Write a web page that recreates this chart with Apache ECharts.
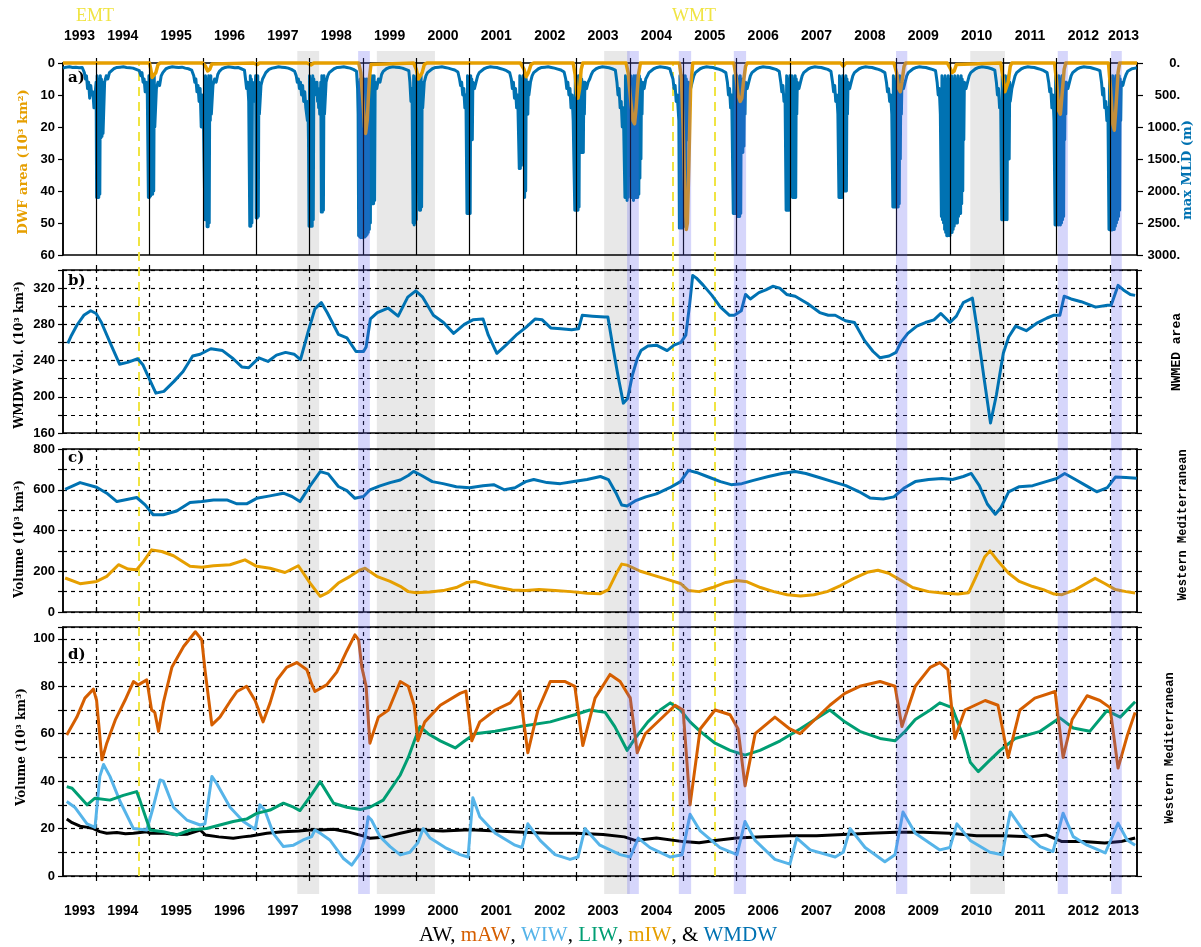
<!DOCTYPE html>
<html>
<head>
<meta charset="utf-8">
<script src="https://cdn.jsdelivr.net/npm/echarts@6/dist/echarts.min.js"></script>
<style>
  html, body { margin: 0; padding: 0; background: #ffffff; }
  #chart { width: 1201px; height: 947px; }
</style>
</head>
<body>
<div id="chart"></div>
<script>
// ---- time axis (decimal years) ----
const X_MIN = 1993.38;
const X_MAX = 2013.505;
const yearBoundaries = [1994, 1995, 1996, 1997, 1998, 1999, 2000, 2001, 2002, 2003,
                        2004, 2005, 2006, 2007, 2008, 2009, 2010, 2011, 2012, 2013];
const yearLabels = [1993, 1994, 1995, 1996, 1997, 1998, 1999, 2000, 2001, 2002, 2003,
                    2004, 2005, 2006, 2007, 2008, 2009, 2010, 2011, 2012, 2013];

// transition events (dashed yellow lines)
const transitionDates = [1994.8, 2004.8, 2005.6];

// shaded periods [start, end]
const greyPeriods = [[1997.77, 1998.18], [1999.26, 2000.35], [2003.52, 2004.0], [2010.38, 2011.03]];
const bluePeriods = [[1998.91, 1999.13], [2003.95, 2004.17], [2004.92, 2005.15], [2005.95, 2006.18],
                     [2008.99, 2009.2], [2012.02, 2012.21], [2013.02, 2013.22]];

// ---- a) deep water formation area (10^3 km^2) ----
const dwfArea = [
  [1993.38,0],[1995.0,0],[1995.02,1.5],[1995.05,4.5],[1995.08,5],[1995.12,3],[1995.16,0.5],[1995.2,0],
  [1996.0,0],[1996.05,1],[1996.09,2.5],[1996.13,2],[1996.17,0.3],[1996.2,0],
  [1996.95,0],[1997.02,0.5],[1997.06,0],
  [1997.95,0],[1998.03,0.6],[1998.08,0],
  [1998.92,0],[1998.96,3],[1999.0,12],[1999.03,20],[1999.05,22],[1999.08,18],[1999.12,5],[1999.15,0.5],[1999.18,0],
  [1999.95,0],[2000.0,2],[2000.04,5],[2000.07,5.3],[2000.11,3],[2000.15,0.5],[2000.2,0],
  [2001.95,0],[2002.02,2],[2002.06,4.3],[2002.1,3],[2002.15,0.5],[2002.2,0],
  [2002.94,0],[2002.98,4],[2003.01,10],[2003.03,11],[2003.06,8],[2003.09,2],[2003.12,0],
  [2003.93,0],[2003.97,3],[2004.02,12],[2004.06,18],[2004.09,19],[2004.12,14],[2004.16,4],[2004.2,0],
  [2004.93,0],[2004.97,5],[2005.0,20],[2005.03,40],[2005.06,52],[2005.08,50],[2005.11,30],[2005.14,8],[2005.18,0],
  [2005.95,0],[2005.99,4],[2006.03,10],[2006.07,12],[2006.1,11],[2006.13,6],[2006.17,1],[2006.2,0],
  [2007.95,0],[2008.0,1],[2008.05,0],
  [2008.95,0],[2009.0,3],[2009.04,8],[2009.07,9],[2009.1,6],[2009.14,1],[2009.17,0],
  [2009.95,0],[2010.0,1.5],[2010.04,3],[2010.08,2.5],[2010.12,0.5],[2010.15,0],
  [2010.95,0],[2010.99,4],[2011.03,9],[2011.06,9.5],[2011.09,6],[2011.13,1],[2011.16,0],
  [2011.96,0],[2012.0,6],[2012.04,15],[2012.07,16],[2012.1,10],[2012.14,2],[2012.17,0],
  [2012.97,0],[2013.01,8],[2013.05,19],[2013.08,21],[2013.11,14],[2013.15,3],[2013.18,0],[2013.505,0]
];

// ---- a) maximum mixed layer depth (m): runs of [start year, step (yr), values] ----
const mldRuns = [
  [1993.38, 0.06, [80,65,60,70,65,75,70]],
  [1993.78, 0.02, [150,250,200,400,300,550,350,500,450,700]],
  [1994.00, 0.01, [300,2100,200,2080,250,2100,300,2050,200,1170,250,1150,300,1100]],
  [1994.16, 0.03, [300,200,250,150,120]],
  [1994.33, 0.06, [90,70,65,60,70,75,80,100,120]],
  [1994.84, 0.02, [200,150,300,250,450,300,500]],
  [1994.98, 0.01, [2100,200,2100,250,2080,300,2050,200,2050,250,2000,200,1000]],
  [1995.13, 0.03, [400,300,350,200,150]],
  [1995.31, 0.06, [90,70,60,65,70,65,80,90,110]],
  [1995.83, 0.02, [200,300,250,450,350,600,400,1000,500,800]],
  [1996.04, 0.01, [2450,200,2450,250,2560,300,2560,200,2500,250,900,200,800]],
  [1996.19, 0.03, [350,250,300,180,130]],
  [1996.36, 0.06, [90,70,60,65,75,70,90,110]],
  [1996.80, 0.02, [250,400,300,600]],
  [1996.88, 0.01, [2550,200,2550,250,2500,300,400,600,350,500,400,200,2420,250,2420,200,2400,300,800]],
  [1997.09, 0.03, [350,250,200,150]],
  [1997.24, 0.06, [100,80,70,60,65,70,80,100,130]],
  [1997.75, 0.02, [200,300,250,400,300,500,350,600,450,700]],
  [1997.96, 0.01, [900,600,1200,2550,200,2550,250,2500,300,2550,200,2450,250,500,300,450,350,500,300,600,400,700,500,800,600,300,2330,200,2330,250,2300,200,800]],
  [1998.31, 0.03, [300,200,150,120]],
  [1998.46, 0.06, [90,70,65,60,70,80,100,130]],
  [1998.90, 0.01, [400,800]],
  [1998.92, 0.01, [2700,300,2720,250,2730,300,2700,350,2730,300,2700,250,2720,300,2700,250,2680,300,2650,250,2600,300,2500,250,700,200,2200,250,2200,200,2150,300]],
  [1999.26, 0.03, [400,250,300,180,130]],
  [1999.44, 0.06, [90,70,60,65,70,80,100,120]],
  [1999.88, 0.02, [300,600,400]],
  [1999.94, 0.01, [2500,200,2530,250,2500,300,2450,200,1500,250,1500,200,2300,250,2300,200,2250,300,700]],
  [2000.15, 0.03, [300,200,150,120]],
  [2000.30, 0.06, [90,70,65,60,70,80,95,110,140]],
  [2000.81, 0.02, [250,350,300,500,400,700,500]],
  [2000.95, 0.01, [2350,200,2350,250,2300,300,2350,200,1200,250,1200,300]],
  [2001.09, 0.03, [400,300,200,150,120]],
  [2001.27, 0.06, [90,70,60,65,70,85,100,120,150]],
  [2001.78, 0.02, [250,400,300,550,400,700,500]],
  [2001.93, 0.01, [1650,200,1650,250,1600,300,900,200,900,250,2100,200,2000,250,600,300,800,300,500]],
  [2002.14, 0.03, [300,200,150,120]],
  [2002.29, 0.06, [90,70,65,60,70,80,95,110,140]],
  [2002.80, 0.02, [250,400,300,500,400,700,500,900]],
  [2002.97, 0.01, [2300,200,2300,250,2250,300,2300,200,2250,250,1400,200,1400,250,1300,300,1400,300,800,300]],
  [2003.19, 0.03, [400,300,250,180,130]],
  [2003.37, 0.06, [90,70,60,65,75,90,110]],
  [2003.76, 0.02, [300,500,400,700,600,1000,700]],
  [2003.91, 0.01, [2100,200,2100,250,2150,300,2100,200,1500,250,1500,200,2100,250,2100,300,2150,200,2100,250,2050,200,2100,250,2100,300,2050,200,1800,250,1500,300,800,300]],
  [2004.27, 0.03, [400,250,200,150,120]],
  [2004.45, 0.06, [90,70,60,65,75,90]],
  [2004.79, 0.02, [200,250,400,350,600,500]],
  [2004.92, 0.01, [900,2580,200,2580,250,2550,300,2580,200,2500,250,2550,200,2500,250,1200,300,1200,300,700]],
  [2005.14, 0.03, [400,300,200,150,120]],
  [2005.32, 0.06, [90,70,60,65,70,85,100,120,150]],
  [2005.83, 0.02, [300,500,400,700,500]],
  [2005.94, 0.01, [2350,200,2350,250,2300,300,2350,200,2400,250,2400,300,2400,200,2350,250,1400,300,1400,250,1300,300,800,300]],
  [2006.20, 0.03, [400,300,200,150,120]],
  [2006.38, 0.06, [90,70,60,65,70,85,100,130]],
  [2006.83, 0.02, [300,450,350,600,500]],
  [2006.93, 0.01, [2300,200,2300,250,2250,300,2300,200,1000,250,1000,200,2100,250,2100,300,2050,200,2100,250,800,300]],
  [2007.17, 0.03, [400,300,200,150,120]],
  [2007.35, 0.06, [90,70,60,65,70,85,100,130]],
  [2007.80, 0.02, [300,450,350,600,500,800]],
  [2007.92, 0.01, [2100,200,2100,250,2050,300,2100,200,2000,250,2000,300,1950,200,2000,250,800,300]],
  [2008.12, 0.03, [400,300,200,150,120]],
  [2008.30, 0.06, [90,70,60,65,70,85,100,120,150]],
  [2008.81, 0.02, [300,450,400,600,500,800]],
  [2008.93, 0.01, [2250,200,2250,250,2200,300,2250,200,2200,250,2250,300,2200,200,1500,250,800,300]],
  [2009.13, 0.03, [400,300,200,150,120]],
  [2009.31, 0.06, [90,70,60,65,70,85,100,120]],
  [2009.76, 0.02, [300,500,400,800]],
  [2009.84, 0.01, [2400,200,2450,250,2500,300,2600,200,2650,250,2700,300,2700,200,2650,250,2700,300,2600,200,2650,250,2600,300,2550,200,2500,250,2450,300,2500,200,2400,250,2300,300,2350,200,2200,250,2000,300,1200,300]],
  [2010.30, 0.03, [400,300,200,150,120]],
  [2010.48, 0.06, [90,70,60,65,75,90,110]],
  [2010.87, 0.02, [300,500,400,700,600]],
  [2010.97, 0.01, [2450,200,2450,250,2400,300,2450,200,2400,250,2450,300,1500,200,1500,300,600]],
  [2011.16, 0.03, [400,300,200,150,120]],
  [2011.34, 0.06, [90,70,60,65,70,85,100,120,150]],
  [2011.85, 0.02, [300,450,400,700,500,900]],
  [2011.97, 0.01, [2530,200,2530,250,2500,300,2530,200,2500,250,2530,300,2500,200,2450,250,2400,300,1200,300,800,300]],
  [2012.21, 0.03, [400,300,200,150,120]],
  [2012.39, 0.06, [90,70,60,65,70,85,100,120]],
  [2012.84, 0.02, [300,500,400,700,600,900,700]],
  [2012.98, 0.01, [2600,200,2610,250,2600,300,2610,200,2580,250,2600,300,2550,200,2500,250,2450,300,2400,200,2300,250,900,300]],
  [2013.24, 0.03, [350,250,180,130,100]],
  [2013.41, 0.03, [90,85,80,80]]
];
const maxMLD = [];
mldRuns.forEach(function (run) {
  run[2].forEach(function (v, i) { maxMLD.push([+(run[0] + i * run[1]).toFixed(4), v]); });
});

// ---- b) WMDW volume, NWMED area (10^3 km^3) ----
const wmdwNW = [
  [1993.47,259],[1993.54,268],[1993.64,279],[1993.77,290],[1993.90,295],[1994.0,292],[1994.10,282],[1994.26,260],[1994.44,236],[1994.59,238],[1994.78,242],[1994.88,235],
  [1995.01,218],[1995.12,204],[1995.27,206],[1995.46,217],[1995.63,228],[1995.81,245],[1995.95,247],[1996.15,253],[1996.37,251],[1996.57,242],[1996.73,233],[1996.86,232],
  [1997.05,243],[1997.22,239],[1997.38,246],[1997.55,249],[1997.71,247],[1997.83,241],[1997.97,271],[1998.10,297],[1998.22,304],[1998.33,293],[1998.54,269],[1998.70,265],[1998.87,250],
  [1999.01,250],[1999.06,255],[1999.14,286],[1999.27,293],[1999.47,298],[1999.66,289],[1999.84,310],[1999.99,317],[2000.12,310],[2000.32,290],[2000.51,282],[2000.70,270],[2000.90,280],
  [2001.06,285],[2001.25,286],[2001.35,268],[2001.51,248],[2001.68,257],[2001.87,268],[2002.06,277],[2002.23,286],[2002.36,285],[2002.52,276],[2002.71,275],[2002.91,274],
  [2003.04,275],[2003.11,290],[2003.30,289],[2003.53,288],[2003.59,288],[2003.69,253],[2003.79,220],[2003.88,193],[2003.96,198],[2004.05,224],[2004.14,242],[2004.21,251],[2004.34,256],[2004.50,257],[2004.70,251],[2004.83,257],[2004.96,260],
  [2005.05,268],[2005.12,301],[2005.18,334],[2005.25,331],[2005.38,323],[2005.54,312],[2005.70,299],[2005.87,290],[2005.96,290],[2006.09,295],[2006.17,313],[2006.26,308],[2006.42,315],[2006.55,318],[2006.68,322],[2006.81,320],[2006.94,313],
  [2007.10,311],[2007.33,303],[2007.56,293],[2007.72,290],[2007.85,290],[2008.04,284],[2008.21,282],[2008.40,262],[2008.56,250],[2008.69,243],[2008.86,245],[2008.99,249],
  [2009.08,260],[2009.21,270],[2009.38,278],[2009.54,282],[2009.70,285],[2009.83,292],[2010.0,282],[2010.12,289],[2010.25,304],[2010.42,309],[2010.51,275],[2010.64,220],[2010.76,171],[2010.87,202],
  [2011.0,248],[2011.10,266],[2011.23,278],[2011.43,273],[2011.62,281],[2011.82,287],[2011.94,290],[2012.06,290],[2012.14,311],[2012.27,308],[2012.46,305],[2012.73,299],[2012.95,301],
  [2013.02,301],[2013.15,323],[2013.25,318],[2013.38,313],[2013.47,312]
];

// ---- c) Western Mediterranean volumes (10^3 km^3) ----
const wmdwWM = [
  [1993.42,602],[1993.70,635],[1994.01,612],[1994.2,583],[1994.39,542],[1994.6,553],[1994.76,562],[1994.92,526],[1995.07,477],[1995.26,477],[1995.51,496],[1995.76,537],[1995.98,542],
  [1996.2,550],[1996.45,550],[1996.64,531],[1996.82,531],[1997.01,558],[1997.26,570],[1997.51,583],[1997.67,567],[1997.82,542],[1998.01,619],[1998.2,689],[1998.35,678],[1998.54,616],[1998.70,596],[1998.85,558],
  [1999.01,567],[1999.13,599],[1999.32,619],[1999.51,635],[1999.70,648],[1999.85,670],[1999.95,690],[2000.1,670],[2000.3,640],[2000.5,630],[2000.75,615],[2001.0,610],[2001.25,620],[2001.45,625],[2001.65,600],[2001.85,610],
  [2002.05,640],[2002.2,650],[2002.45,635],[2002.7,630],[2002.95,640],[2003.2,650],[2003.45,665],[2003.6,650],[2003.75,580],[2003.85,525],[2003.95,520],[2004.1,545],[2004.3,565],[2004.5,580],[2004.75,610],[2004.95,640],
  [2005.1,695],[2005.25,685],[2005.45,665],[2005.7,640],[2005.9,625],[2006.1,630],[2006.3,645],[2006.6,665],[2006.85,680],[2007.1,690],[2007.3,680],[2007.55,660],[2007.8,640],[2008.05,620],[2008.3,590],[2008.5,560],[2008.75,555],[2008.95,565],
  [2009.15,610],[2009.35,640],[2009.6,650],[2009.85,655],[2010.05,650],[2010.25,665],[2010.4,680],[2010.55,620],[2010.7,530],[2010.85,480],[2010.95,510],[2011.1,590],[2011.3,615],[2011.55,620],[2011.8,640],
  [2012.0,655],[2012.15,680],[2012.35,650],[2012.55,620],[2012.75,590],[2012.95,610],[2013.1,662],[2013.3,660],[2013.5,657]
];
const mIW = [
  [1993.42,167],[1993.70,139],[1994.01,150],[1994.2,175],[1994.42,232],[1994.6,211],[1994.76,207],[1994.89,248],[1995.04,305],[1995.23,297],[1995.45,276],[1995.76,224],[1995.98,220],
  [1996.2,227],[1996.51,232],[1996.79,256],[1997.01,224],[1997.26,215],[1997.54,194],[1997.79,227],[1998.01,142],[1998.2,77],[1998.35,96],[1998.54,142],[1998.76,175],[1998.95,207],
  [1999.04,215],[1999.26,175],[1999.51,150],[1999.70,126],[1999.85,100],[2000.0,95],[2000.25,98],[2000.5,105],[2000.75,120],[2000.95,145],[2001.1,150],[2001.3,135],[2001.55,120],[2001.8,108],
  [2002.05,105],[2002.3,110],[2002.6,105],[2002.9,100],[2003.2,92],[2003.45,90],[2003.6,110],[2003.75,190],[2003.85,235],[2003.95,230],[2004.2,200],[2004.45,180],[2004.7,160],[2004.95,140],
  [2005.1,105],[2005.3,100],[2005.55,120],[2005.8,145],[2006.0,155],[2006.2,148],[2006.45,120],[2006.7,100],[2006.95,85],[2007.2,78],[2007.45,85],[2007.7,100],[2007.95,130],
  [2008.2,165],[2008.45,195],[2008.65,205],[2008.85,190],[2009.05,160],[2009.3,120],[2009.6,100],[2009.9,92],[2010.15,88],[2010.35,95],[2010.5,180],[2010.65,270],[2010.75,300],[2010.9,250],
  [2011.1,190],[2011.3,150],[2011.55,125],[2011.75,110],[2011.95,88],[2012.1,85],[2012.35,110],[2012.55,140],[2012.72,165],[2012.9,140],[2013.1,110],[2013.3,100],[2013.47,93]
];

// ---- d) Western Mediterranean volumes (10^3 km^3) ----
const mAW = [
  [1993.45,59.5],[1993.64,67],[1993.79,75],[1993.95,78.8],[1994.01,74],[1994.11,49],[1994.2,56],[1994.36,65.8],[1994.54,74],[1994.7,82],[1994.79,80.6],[1994.95,82.7],
  [1995.04,70],[1995.1,69],[1995.17,61],[1995.26,73],[1995.42,88],[1995.64,96.8],[1995.86,103],[1995.98,99.6],[1996.04,87],[1996.17,63.7],[1996.32,67],[1996.51,73.6],[1996.64,77.8],[1996.82,80],[1996.98,74],
  [1997.13,65],[1997.26,73],[1997.39,82.7],[1997.57,88],[1997.76,90],[1997.95,87],[1998.04,81],[1998.10,77.8],[1998.32,80.6],[1998.51,86],[1998.70,95],[1998.85,101.7],[1998.92,99.6],[1998.98,88],
  [1999.06,80],[1999.13,56],[1999.29,67],[1999.48,70],[1999.70,82],[1999.85,80],[1999.96,72],[2000.03,57],[2000.16,65],[2000.45,72],[2000.82,77],[2000.93,78],
  [2001.04,57],[2001.19,65],[2001.48,70],[2001.76,73],[2001.94,78],[2002.09,52],[2002.28,70],[2002.51,82],[2002.79,82],[2002.97,80],
  [2003.12,55],[2003.35,75],[2003.63,85],[2003.82,82],[2004.01,75],[2004.14,52],[2004.29,60],[2004.57,66],[2004.85,72],[2005.0,70],
  [2005.13,30],[2005.32,62],[2005.6,70],[2005.88,68],[2006.03,62],[2006.16,38],[2006.35,60],[2006.72,67],[2007.0,62],[2007.19,60],[2007.47,66],[2007.75,72],
  [2008.03,77],[2008.31,80],[2008.69,82],[2008.97,80],[2009.1,63],[2009.35,80],[2009.63,88],[2009.81,90],[2009.96,87],[2010.09,58],[2010.28,70],[2010.66,74],[2010.9,72],
  [2011.09,50],[2011.31,70],[2011.59,75],[2011.97,77.8],[2012.12,50],[2012.29,66],[2012.57,76],[2012.81,74],[2013.0,71],[2013.15,45.5],[2013.32,59],[2013.47,69]
];
const LIW = [
  [1993.45,37.7],[1993.55,37],[1993.83,30],[1993.98,32.8],[1994.26,32],[1994.51,34],[1994.76,35.6],[1994.82,32],[1995.01,19.4],[1995.26,18.7],[1995.51,17.3],[1995.76,19.4],
  [1996.07,20],[1996.32,21.5],[1996.57,23],[1996.82,24],[1997.01,26.4],[1997.26,27.8],[1997.51,30.7],[1997.70,29],[1997.82,27.6],[1998.01,33.5],[1998.2,39.8],[1998.45,30.7],[1998.70,29],[1998.95,28],
  [1999.13,29],[1999.38,32],[1999.70,42.6],[1999.85,50],[1999.98,58],[2000.07,63],[2000.22,60],[2000.45,57],[2000.73,54],[2000.91,57],[2001.1,60],[2001.48,61],[2001.94,63],[2002.51,65],[2002.97,68],
  [2003.25,70],[2003.54,69],[2003.72,63],[2003.95,53],[2004.1,58],[2004.34,65],[2004.57,70],[2004.76,73],[2004.95,70],[2005.13,65],[2005.32,61],[2005.6,56],[2005.88,53],[2006.16,51],[2006.44,53],[2006.82,57],
  [2007.19,62],[2007.47,66],[2007.75,70],[2008.03,65],[2008.31,61],[2008.69,58],[2008.97,57],[2009.16,61],[2009.35,66],[2009.63,70],[2009.81,73],[2010.04,71],[2010.23,60],[2010.38,48],[2010.53,44],[2010.71,48],
  [2010.94,53],[2011.22,58],[2011.69,61],[2012.06,66.7],[2012.31,62.4],[2012.62,61],[2012.94,69.7],[2013.19,67],[2013.47,73.5]
];
const WIW = [
  [1993.45,31.4],[1993.6,29],[1993.83,22],[1993.98,20.5],[1994.07,42],[1994.14,47],[1994.26,42],[1994.45,31.4],[1994.70,20],[1994.95,19.4],[1995.07,29],[1995.2,40.5],[1995.26,40],[1995.45,29],[1995.70,23.6],[1995.95,21.5],
  [1996.04,22],[1996.17,42],[1996.26,39],[1996.51,29],[1996.76,23],[1996.98,19.7],[1997.07,30],[1997.16,27.8],[1997.32,18],[1997.51,12.4],[1997.70,13],[1997.88,15.2],[1998.04,16.6],[1998.10,19.4],[1998.2,18],[1998.38,15.2],[1998.63,7.5],[1998.79,4.6],[1998.95,9.6],
  [1999.04,16],[1999.10,25],[1999.16,23.6],[1999.32,16.6],[1999.51,12.4],[1999.70,8.9],[1999.88,10],[2000.03,14],[2000.13,20],[2000.26,16],[2000.54,12],[2000.82,9],[2000.97,8],
  [2001.06,33],[2001.19,25],[2001.48,18],[2001.85,13],[2001.98,12],[2002.09,22],[2002.32,15],[2002.6,9],[2002.88,7],[2003.03,8],[2003.16,20],[2003.44,13],[2003.82,9],[2004.01,8],[2004.16,16],[2004.38,12],[2004.76,8],[2004.98,9],
  [2005.13,26],[2005.32,19],[2005.69,12],[2006.01,9],[2006.16,23],[2006.35,15],[2006.72,7],[2007.0,5],[2007.13,16],[2007.38,11],[2007.85,8],[2008.0,10],[2008.13,20],[2008.41,12],[2008.78,6],[2008.97,9],
  [2009.12,27],[2009.35,18],[2009.81,11],[2010.0,12],[2010.13,22],[2010.38,15],[2010.75,10],[2010.98,9],[2011.13,27],[2011.41,18],[2011.69,12.4],[2011.93,10.3],[2012.12,26.5],[2012.31,16.6],[2012.57,13],[2012.91,9.7],
  [2013.15,22.3],[2013.32,15.2],[2013.47,13]
];
const AW = [
  [1993.45,24],[1993.55,22.5],[1993.7,21],[1993.85,20.5],[1993.95,20],[1994.07,18.7],[1994.2,18],[1994.39,18.3],[1994.55,17.8],[1994.7,18],[1994.95,18.7],[1995.01,18],[1995.3,18],[1995.5,17.5],[1995.7,17.6],
  [1995.95,19.4],[1996.05,17.3],[1996.3,16.5],[1996.57,15.9],[1996.75,16.5],[1996.9,16.9],[1997.2,18],[1997.5,18.7],[1997.8,19],[1998.0,19.4],[1998.2,19.4],[1998.45,19.7],[1998.7,18.7],[1999.0,16.9],
  [1999.13,15.9],[1999.38,16.3],[1999.7,18],[2000.0,19.5],[2000.5,19],[2001.0,19.5],[2001.5,19],[2002.0,18.5],[2002.5,18],[2003.0,18],[2003.5,17.5],[2003.9,16.5],[2004.1,15],[2004.5,16],[2005.0,14.5],
  [2005.3,14],[2005.6,15],[2006.0,16],[2006.5,16.5],[2007.0,17],[2007.5,17],[2008.0,17.5],[2008.5,18],[2009.0,18.5],[2009.5,18.5],[2010.0,18],[2010.5,17],[2011.0,17],[2011.5,16.5],[2011.8,17.3],
  [2012.1,14.5],[2012.5,14.5],[2012.9,13.9],[2013.2,14.5],[2013.47,16]
];

// ---- palette ----
const COL = {
  AW: '#000000', mAW: '#D55E00', WIW: '#56B4E9', LIW: '#009E73', mIW: '#E69F00',
  WMDW: '#0072B2', transition: '#F0E442'
};

const TICK_FONT = 'Liberation Sans';
const TITLE_FONT = 'DejaVu Serif';

// label positions: centre of each (possibly partial) calendar year
const labelCentres = yearLabels.map(function (y) {
  const a = Math.max(y, X_MIN), b = Math.min(y + 1, X_MAX);
  return (a + b) / 2;
});

const GRID_L = 63, GRID_R = 64;
const panels = [
  { top: 63,  height: 192 },
  { top: 270, height: 163 },
  { top: 449, height: 163 },
  { top: 627, height: 249 }
];

const grids = panels.map(function (p) {
  return { left: GRID_L, right: GRID_R, top: p.top, height: p.height,
           show: true, borderColor: '#000', borderWidth: 1.5, backgroundColor: 'transparent' };
});
// overlay grids: shading bands and transition lines
grids.push({ left: GRID_L, right: GRID_R, top: 51, height: 843, show: false });
grids.push({ left: GRID_L, right: GRID_R, top: 63, height: 813, show: false });

function xAxisFor(gridIndex, opts) {
  return Object.assign({
    type: 'value', gridIndex: gridIndex, min: X_MIN, max: X_MAX,
    axisLine: { show: false },
    axisTick: { show: false },
    axisLabel: { show: false },
    splitLine: { show: false }
  }, opts || {});
}

const yearLabelStyle = {
  show: true, customValues: labelCentres,
  formatter: function (v) { return String(Math.floor(v + 1e-6)); },
  fontFamily: TICK_FONT, fontWeight: 'bold', fontSize: 14, color: '#000'
};
const yearTick = { show: true, customValues: yearBoundaries, length: 5, lineStyle: { color: '#000', width: 1.2 } };

const xAxes = [
  xAxisFor(0, { position: 'top', axisLabel: Object.assign({}, yearLabelStyle, { margin: 20 }), axisTick: yearTick }),
  xAxisFor(1, { position: 'top', axisTick: yearTick }),
  xAxisFor(2, { position: 'top', axisTick: yearTick }),
  xAxisFor(3, { position: 'bottom', axisLabel: Object.assign({}, yearLabelStyle, { margin: 28 }), axisTick: yearTick }),
  xAxisFor(4),
  xAxisFor(5)
];

function yAxisFor(gridIndex, min, max, interval, labelEvery, extra) {
  return Object.assign({
    type: 'value', gridIndex: gridIndex, min: min, max: max, interval: interval,
    axisLine: { show: true, lineStyle: { color: '#000', width: 1.5 } },
    axisTick: { show: true, length: 5, lineStyle: { color: '#000', width: 1.2 } },
    axisLabel: {
      fontFamily: TICK_FONT, fontWeight: 'bold', fontSize: 13, color: '#000', margin: 8,
      formatter: function (v) {
        if (v >= max - 1e-9 && max % labelEvery !== 0) return '';
        return (Math.abs(v % labelEvery) < 1e-9) ? String(v) : '';
      }
    },
    splitLine: { show: true, lineStyle: { color: '#000', type: [4, 4], width: 1.2 } }
  }, extra || {});
}
function rightTicks(gridIndex, min, max, interval) {
  return {
    type: 'value', gridIndex: gridIndex, position: 'right', min: min, max: max, interval: interval,
    axisLine: { show: true, lineStyle: { color: '#000', width: 1.5 } },
    axisTick: { show: true, length: 5, lineStyle: { color: '#000', width: 1.2 } },
    axisLabel: { show: false }, splitLine: { show: false }
  };
}

const yAxes = [
  // 0: a) DWF area (inverted)
  yAxisFor(0, 0, 60, 10, 10, { inverse: true, splitLine: { show: false } }),
  // 1: a) max MLD (inverted, right)
  {
    type: 'value', gridIndex: 0, position: 'right', inverse: true, min: 0, max: 3000, interval: 500,
    axisLine: { show: true, lineStyle: { color: '#000', width: 1.5 } },
    axisTick: { show: true, length: 6, lineStyle: { color: '#000', width: 1.2 } },
    axisLabel: { fontFamily: TICK_FONT, fontWeight: 'bold', fontSize: 13, color: '#000',
                 align: 'right', margin: 43, formatter: function (v) { return v + '.'; } },
    splitLine: { show: false }
  },
  // 2: b)
  yAxisFor(1, 160, 340, 20, 40),
  // 3: c)
  yAxisFor(2, 0, 800, 100, 200),
  // 4: d)
  yAxisFor(3, 0, 105, 10, 20),
  // 5,6,7: right-hand ticks for b, c, d
  rightTicks(1, 160, 340, 20),
  rightTicks(2, 0, 800, 100),
  rightTicks(3, 0, 105, 10),
  // 8, 9: overlay axes
  { type: 'value', gridIndex: 4, min: 0, max: 1, show: false },
  { type: 'value', gridIndex: 5, min: 0, max: 1, show: false }
];

function yearLines(dashed, width) {
  return {
    silent: true, symbol: ['none', 'none'], z: dashed ? 1 : 6,
    label: { show: false },
    lineStyle: { color: '#000', width: width, type: dashed ? [4, 4] : 'solid' },
    emphasis: { disabled: true },
    data: yearBoundaries.map(function (y) { return { xAxis: y }; })
  };
}

function lineSeries(name, data, color, xi, yi, width, extra) {
  return Object.assign({
    name: name, type: 'line', xAxisIndex: xi, yAxisIndex: yi, data: data,
    showSymbol: false, symbol: 'none', animation: false, z: 3,
    lineStyle: { color: color, width: width, join: 'round' },
    itemStyle: { color: color }
  }, extra || {});
}

const series = [
  // a)
  lineSeries('max MLD', maxMLD, COL.WMDW, 0, 1, 3, { markLine: yearLines(false, 1.2) }),
  lineSeries('DWF area', dwfArea, COL.mIW, 0, 0, 3.5, { clip: false, z: 4 }),
  // b)
  lineSeries('WMDW NWMED', wmdwNW, COL.WMDW, 1, 2, 3, { markLine: yearLines(true, 1.2) }),
  // c)
  lineSeries('WMDW', wmdwWM, COL.WMDW, 2, 3, 3, { markLine: yearLines(true, 1.2) }),
  lineSeries('mIW', mIW, COL.mIW, 2, 3, 3),
  // d)
  lineSeries('AW', AW, COL.AW, 3, 4, 3, { markLine: yearLines(true, 1.2) }),
  lineSeries('WIW', WIW, COL.WIW, 3, 4, 3),
  lineSeries('LIW', LIW, COL.LIW, 3, 4, 3),
  lineSeries('mAW', mAW, COL.mAW, 3, 4, 3),
  // shading bands
  {
    type: 'line', xAxisIndex: 4, yAxisIndex: 8, data: [], silent: true, animation: false,
    markArea: {
      silent: true, z: 1,
      itemStyle: { color: 'rgba(0,0,0,0.09)' },
      data: greyPeriods.map(function (p) { return [{ xAxis: p[0] }, { xAxis: p[1] }]; })
    }
  },
  {
    type: 'line', xAxisIndex: 4, yAxisIndex: 8, data: [], silent: true, animation: false,
    markArea: {
      silent: true, z: 10,
      itemStyle: { color: 'rgba(90,90,240,0.25)' },
      data: bluePeriods.map(function (p) { return [{ xAxis: p[0] }, { xAxis: p[1] }]; })
    }
  },
  // transition markers
  {
    type: 'line', xAxisIndex: 5, yAxisIndex: 9, data: [], silent: true, animation: false,
    markLine: {
      silent: true, symbol: ['none', 'none'], z: 2, label: { show: false },
      lineStyle: { color: COL.transition, width: 2, type: [9, 6] },
      data: transitionDates.map(function (d) { return { xAxis: d }; })
    }
  }
];

function vText(text, x, y, color, font, size, weight) {
  return {
    type: 'text', x: x, y: y, rotation: Math.PI / 2, silent: true,
    style: { text: text, fill: color, font: (weight || 'bold') + ' ' + size + 'px "' + font + '"',
             textAlign: 'center', textVerticalAlign: 'middle' }
  };
}
function hText(text, x, y, color, font, size, weight, align) {
  return {
    type: 'text', x: x, y: y, silent: true,
    style: { text: text, fill: color, font: (weight || 'bold') + ' ' + size + 'px "' + font + '"',
             textAlign: align || 'left', textVerticalAlign: 'middle' }
  };
}

const graphics = [
  hText('EMT', 95, 16, COL.transition, 'Liberation Serif', 18, 'normal', 'center'),
  hText('WMT', 694, 16, COL.transition, 'Liberation Serif', 18, 'normal', 'center'),
  hText('a)', 68, 78, '#000', TITLE_FONT, 15),
  hText('b)', 68, 281, '#000', TITLE_FONT, 15),
  hText('c)', 68, 458, '#000', TITLE_FONT, 15),
  hText('d)', 68, 655, '#000', TITLE_FONT, 15),
  vText('DWF area (10\u00b3 km\u00b2)', 24, 162, COL.mIW, TITLE_FONT, 13),
  vText('max MLD (m)', 1188, 170, COL.WMDW, TITLE_FONT, 13),
  vText('WMDW Vol. (10\u00b3 km\u00b3)', 20, 355, '#000', TITLE_FONT, 12),
  vText('Volume (10\u00b3 km\u00b3)', 20, 539, '#000', TITLE_FONT, 12),
  vText('Volume (10\u00b3 km\u00b3)', 22, 747, '#000', TITLE_FONT, 12),
  vText('NWMED area', 1177, 352, '#000', 'Liberation Mono', 13),
  vText('Western Mediterranean', 1183, 525, '#000', 'Liberation Mono', 12),
  vText('Western Mediterranean', 1170, 748, '#000', 'Liberation Mono', 12),
  {
    type: 'text', x: 598, y: 935, silent: true,
    style: {
      text: '{k|AW, }{r|mAW}{k|, }{s|WIW}{k|, }{g|LIW}{k|, }{o|mIW}{k|, & }{b|WMDW}',
      textAlign: 'center', textVerticalAlign: 'middle',
      font: '21px "Liberation Serif"',
      rich: {
        k: { fill: '#000', font: '21px "Liberation Serif"' },
        r: { fill: COL.mAW, font: '21px "Liberation Serif"' },
        s: { fill: COL.WIW, font: '21px "Liberation Serif"' },
        g: { fill: COL.LIW, font: '21px "Liberation Serif"' },
        o: { fill: COL.mIW, font: '21px "Liberation Serif"' },
        b: { fill: COL.WMDW, font: '21px "Liberation Serif"' }
      }
    }
  }
];

const chart = echarts.init(document.getElementById('chart'), null, { renderer: 'canvas' });
chart.setOption({
  backgroundColor: '#ffffff',
  animation: false,
  grid: grids,
  xAxis: xAxes,
  yAxis: yAxes,
  series: series,
  graphic: graphics
});
</script>
</body>
</html>
